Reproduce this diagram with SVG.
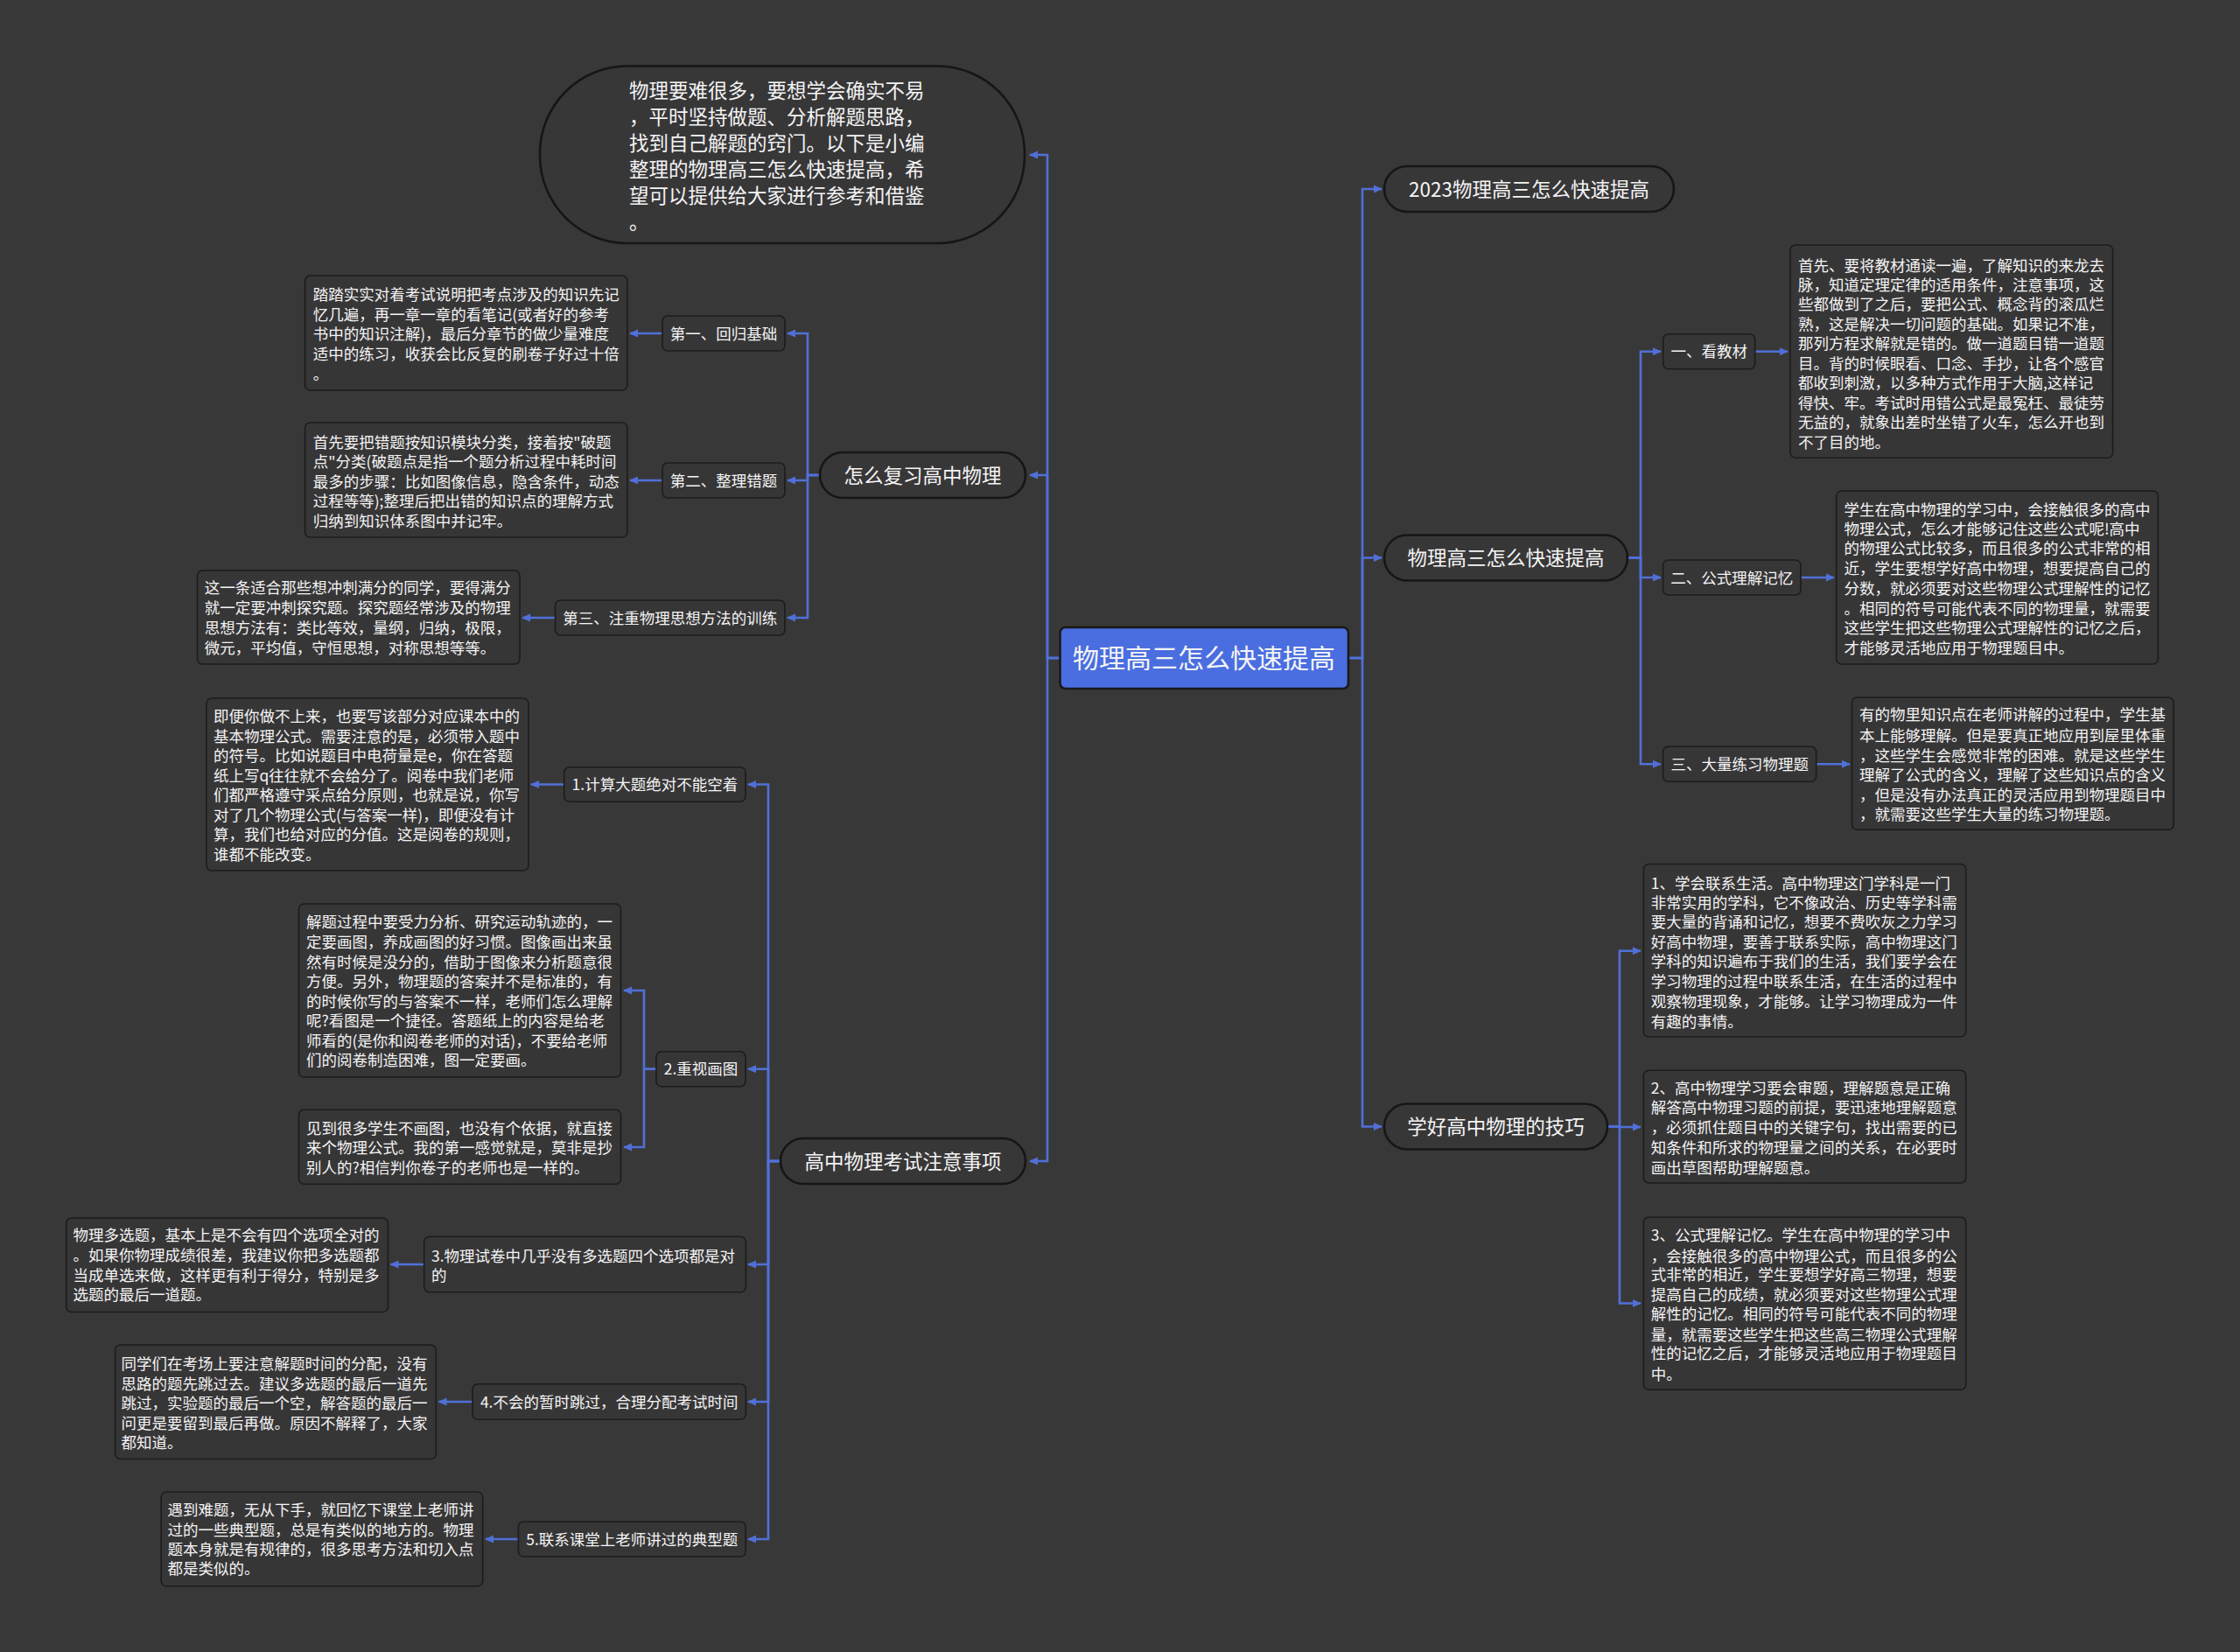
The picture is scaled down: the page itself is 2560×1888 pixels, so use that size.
<svg xmlns="http://www.w3.org/2000/svg" width="2560" height="1888" viewBox="0 0 2560 1888">
<defs>
<marker id="arr" markerUnits="userSpaceOnUse" markerWidth="10" markerHeight="10" refX="9" refY="5" orient="auto">
<path d="M0,0.5 L10,5 L0,9.5 z" fill="#5070d8"/>
</marker>
<style>
.bg{fill:#393839}
.c{fill:none;stroke:#5070d8;stroke-width:2.6;marker-end:url(#arr)}
.pill{fill:#383738;stroke:#161616;stroke-width:2.6}
.box{fill:#373637;stroke:#1c1c1c;stroke-width:1.6}
.t{font-family:"Noto Sans CJK SC","Microsoft YaHei",sans-serif;fill:#f4f4f4}
.s{font-size:17.5px}
.m{font-size:22.5px}
.mid{text-anchor:middle}
</style>
</defs>
<rect class="bg" x="0" y="0" width="2560" height="1888"/>

<g id="connectors">
<path class="c" d="M1211,752 H1197 V177 H1177"/>
<path class="c" d="M1211,752 H1197 V543 H1177"/>
<path class="c" d="M1211,752 H1197 V1327 H1177"/>
<path class="c" d="M1541,752 H1557 V216 H1579"/>
<path class="c" d="M1541,752 H1557 V637.5 H1579"/>
<path class="c" d="M1541,752 H1557 V1287.5 H1579"/>
<path class="c" d="M937,543 H923 V381 H900"/>
<path class="c" d="M937,543 H923 V549 H900"/>
<path class="c" d="M937,543 H923 V706 H900"/>
<path class="c" d="M757,381 H720"/>
<path class="c" d="M757,549 H720"/>
<path class="c" d="M634.6,706 H597"/>
<path class="c" d="M892,1327 H878 V896.5 H855"/>
<path class="c" d="M892,1327 H878 V1221.7 H855"/>
<path class="c" d="M892,1327 H878 V1445 H855"/>
<path class="c" d="M892,1327 H878 V1602 H855"/>
<path class="c" d="M892,1327 H878 V1759 H855"/>
<path class="c" d="M644.7,896.5 H607"/>
<path class="c" d="M750,1221.7 H736 V1132 H713"/>
<path class="c" d="M750,1221.7 H736 V1311 H713"/>
<path class="c" d="M484.7,1445 H446.5"/>
<path class="c" d="M540,1602 H501.5"/>
<path class="c" d="M592.4,1759 H555"/>
<path class="c" d="M1860,637.5 H1875 V401.7 H1898"/>
<path class="c" d="M1860,637.5 H1875 V660 H1898"/>
<path class="c" d="M1860,637.5 H1875 V873.3 H1898"/>
<path class="c" d="M2005.7,401.7 H2043"/>
<path class="c" d="M2058,660 H2096"/>
<path class="c" d="M2075.7,873.3 H2114"/>
<path class="c" d="M1837,1287.5 H1851 V1086.7 H1875"/>
<path class="c" d="M1837,1287.5 H1851 V1288 H1875"/>
<path class="c" d="M1837,1287.5 H1851 V1489.5 H1875"/>
</g>

<g id="root">
<rect x="1211.5" y="717" width="329.5" height="70" rx="6" fill="#4a6ee0" stroke="#1a1a1a" stroke-width="2.6"/>
<text class="t mid" x="1376" y="763" style="font-size:30px">物理高三怎么快速提高</text>
</g>

<g id="intro">
<rect class="pill" x="617" y="75.5" width="554" height="202.5" rx="100" ry="100"/>
<text class="t m" x="719">
<tspan x="719" y="111.5">物理要难很多，要想学会确实不易</tspan>
<tspan x="719" y="141.5">，平时坚持做题、分析解题思路，</tspan>
<tspan x="719" y="171.5">找到自己解题的窍门。以下是小编</tspan>
<tspan x="719" y="201.5">整理的物理高三怎么快速提高，希</tspan>
<tspan x="719" y="231.5">望可以提供给大家进行参考和借鉴</tspan>
<tspan x="719" y="261.5">。</tspan>
</text>
</g>

<g id="review">
<rect class="pill" x="937" y="517" width="235" height="52" rx="26"/>
<text class="t m mid" x="1054.5" y="551.5">怎么复习高中物理</text>
</g>

<g id="exam">
<rect class="pill" x="892" y="1301" width="280" height="52" rx="26"/>
<text class="t m mid" x="1032" y="1335.5">高中物理考试注意事项</text>
</g>

<g id="r1">
<rect class="pill" x="1582" y="190" width="331" height="52" rx="26"/>
<text class="t m mid" x="1747.5" y="224.5">2023物理高三怎么快速提高</text>
</g>

<g id="r2">
<rect class="pill" x="1582" y="611.5" width="278" height="52" rx="26"/>
<text class="t m mid" x="1721" y="646">物理高三怎么快速提高</text>
</g>

<g id="r3">
<rect class="pill" x="1582" y="1261.5" width="255" height="52" rx="26"/>
<text class="t m mid" x="1709.5" y="1296">学好高中物理的技巧</text>
</g>

<g id="rv1">
<rect class="box" x="757" y="361" width="140" height="40" rx="6"/>
<text class="t s mid" x="827" y="387.6">第一、回归基础</text>
</g>
<g id="rv1t">
<rect class="box" x="348.5" y="315" width="368.5" height="131" rx="6"/>
<text class="t s">
<tspan x="357.7" y="343.3">踏踏实实对着考试说明把考点涉及的知识先记</tspan>
<tspan x="357.7" y="365.9">忆几遍，再一章一章的看笔记(或者好的参考</tspan>
<tspan x="357.7" y="388.3">书中的知识注解)，最后分章节的做少量难度</tspan>
<tspan x="357.7" y="410.9">适中的练习，收获会比反复的刷卷子好过十倍</tspan>
<tspan x="357.7" y="433.5">。</tspan>
</text>
</g>

<g id="rv2">
<rect class="box" x="757" y="529" width="140" height="40" rx="6"/>
<text class="t s mid" x="827" y="555.6">第二、整理错题</text>
</g>
<g id="rv2t">
<rect class="box" x="348.5" y="483" width="368.5" height="131" rx="6"/>
<text class="t s">
<tspan x="357.7" y="511.6">首先要把错题按知识模块分类，接着按"破题</tspan>
<tspan x="357.7" y="534.3">点"分类(破题点是指一个题分析过程中耗时间</tspan>
<tspan x="357.7" y="556.6">最多的步骤：比如图像信息，隐含条件，动态</tspan>
<tspan x="357.7" y="579.3">过程等等);整理后把出错的知识点的理解方式</tspan>
<tspan x="357.7" y="601.6">归纳到知识体系图中并记牢。</tspan>
</text>
</g>

<g id="rv3">
<rect class="box" x="634.6" y="686" width="262.4" height="40" rx="6"/>
<text class="t s mid" x="765.8" y="712.6">第三、注重物理思想方法的训练</text>
</g>
<g id="rv3t">
<rect class="box" x="225.5" y="652" width="368.5" height="107" rx="6"/>
<text class="t s">
<tspan x="233.8" y="678.3">这一条适合那些想冲刺满分的同学，要得满分</tspan>
<tspan x="233.8" y="701">就一定要冲刺探究题。探究题经常涉及的物理</tspan>
<tspan x="233.8" y="724.3">思想方法有：类比等效，量纲，归纳，极限，</tspan>
<tspan x="233.8" y="746.6">微元，平均值，守恒思想，对称思想等等。</tspan>
</text>
</g>

<g id="ex1">
<rect class="box" x="644.7" y="876.7" width="207.3" height="39.6" rx="6"/>
<text class="t s mid" x="748.4" y="903.1">1.计算大题绝对不能空着</text>
</g>
<g id="ex1t">
<rect class="box" x="236" y="798" width="368" height="197" rx="6"/>
<text class="t s">
<tspan x="243.9" y="824.9">即便你做不上来，也要写该部分对应课本中的</tspan>
<tspan x="243.9" y="847.5">基本物理公式。需要注意的是，必须带入题中</tspan>
<tspan x="243.9" y="869.9">的符号。比如说题目中电荷量是e，你在答题</tspan>
<tspan x="243.9" y="892.5">纸上写q往往就不会给分了。阅卷中我们老师</tspan>
<tspan x="243.9" y="914.9">们都严格遵守采点给分原则，也就是说，你写</tspan>
<tspan x="243.9" y="937.5">对了几个物理公式(与答案一样)，即便没有计</tspan>
<tspan x="243.9" y="959.9">算，我们也给对应的分值。这是阅卷的规则，</tspan>
<tspan x="243.9" y="982.5">谁都不能改变。</tspan>
</text>
</g>

<g id="ex2">
<rect class="box" x="750" y="1201.7" width="102" height="40" rx="6"/>
<text class="t s mid" x="801" y="1228.3">2.重视画图</text>
</g>
<g id="ex2a">
<rect class="box" x="341.5" y="1033" width="368" height="198" rx="6"/>
<text class="t s">
<tspan x="349.9" y="1059.9">解题过程中要受力分析、研究运动轨迹的，一</tspan>
<tspan x="349.9" y="1082.6">定要画图，养成画图的好习惯。图像画出来虽</tspan>
<tspan x="349.9" y="1105.6">然有时候是没分的，借助于图像来分析题意很</tspan>
<tspan x="349.9" y="1127.6">方便。另外，物理题的答案并不是标准的，有</tspan>
<tspan x="349.9" y="1150.6">的时候你写的与答案不一样，老师们怎么理解</tspan>
<tspan x="349.9" y="1173.3">呢?看图是一个捷径。答题纸上的内容是给老</tspan>
<tspan x="349.9" y="1195.9">师看的(是你和阅卷老师的对话)，不要给老师</tspan>
<tspan x="349.9" y="1218.3">们的阅卷制造困难，图一定要画。</tspan>
</text>
</g>
<g id="ex2b">
<rect class="box" x="341.5" y="1268.3" width="368" height="85" rx="6"/>
<text class="t s">
<tspan x="349.9" y="1295.9">见到很多学生不画图，也没有个依据，就直接</tspan>
<tspan x="349.9" y="1318.3">来个物理公式。我的第一感觉就是，莫非是抄</tspan>
<tspan x="349.9" y="1340.6">别人的?相信判你卷子的老师也是一样的。</tspan>
</text>
</g>

<g id="ex3">
<rect class="box" x="484.7" y="1413.3" width="367.7" height="63.4" rx="6"/>
<text class="t s">
<tspan x="493" y="1441.6">3.物理试卷中几乎没有多选题四个选项都是对</tspan>
<tspan x="493" y="1463.9">的</tspan>
</text>
</g>
<g id="ex3t">
<rect class="box" x="75.7" y="1392" width="367.7" height="107.5" rx="6"/>
<text class="t s">
<tspan x="83.5" y="1418.3">物理多选题，基本上是不会有四个选项全对的</tspan>
<tspan x="83.5" y="1440.9">。如果你物理成绩很差，我建议你把多选题都</tspan>
<tspan x="83.5" y="1463.9">当成单选来做，这样更有利于得分，特别是多</tspan>
<tspan x="83.5" y="1485.9">选题的最后一道题。</tspan>
</text>
</g>

<g id="ex4">
<rect class="box" x="540" y="1581.7" width="312.4" height="40.6" rx="6"/>
<text class="t s mid" x="696.2" y="1608.6">4.不会的暂时跳过，合理分配考试时间</text>
</g>
<g id="ex4t">
<rect class="box" x="131.7" y="1537" width="366.6" height="130.5" rx="6"/>
<text class="t s">
<tspan x="138.5" y="1564.9">同学们在考场上要注意解题时间的分配，没有</tspan>
<tspan x="138.5" y="1587.6">思路的题先跳过去。建议多选题的最后一道先</tspan>
<tspan x="138.5" y="1609.9">跳过，实验题的最后一个空，解答题的最后一</tspan>
<tspan x="138.5" y="1632.6">问更是要留到最后再做。原因不解释了，大家</tspan>
<tspan x="138.5" y="1654.9">都知道。</tspan>
</text>
</g>

<g id="ex5">
<rect class="box" x="592.4" y="1739" width="259.8" height="40" rx="6"/>
<text class="t s mid" x="722.3" y="1765.6">5.联系课堂上老师讲过的典型题</text>
</g>
<g id="ex5t">
<rect class="box" x="184.2" y="1705" width="367.5" height="107.7" rx="6"/>
<text class="t s">
<tspan x="191.5" y="1731.6">遇到难题，无从下手，就回忆下课堂上老师讲</tspan>
<tspan x="191.5" y="1754.9">过的一些典型题，总是有类似的地方的。物理</tspan>
<tspan x="191.5" y="1776.6">题本身就是有规律的，很多思考方法和切入点</tspan>
<tspan x="191.5" y="1799.3">都是类似的。</tspan>
</text>
</g>

<g id="k1">
<rect class="box" x="1900.7" y="381.7" width="105" height="40" rx="6"/>
<text class="t s mid" x="1953.2" y="408.3">一、看教材</text>
</g>
<g id="k1t">
<rect class="box" x="2046" y="280" width="368.6" height="243.3" rx="6"/>
<text class="t s">
<tspan x="2055" y="309.9">首先、要将教材通读一遍，了解知识的来龙去</tspan>
<tspan x="2055" y="332.3">脉，知道定理定律的适用条件，注意事项，这</tspan>
<tspan x="2055" y="354.3">些都做到了之后，要把公式、概念背的滚瓜烂</tspan>
<tspan x="2055" y="376.6">熟，这是解决一切问题的基础。如果记不准，</tspan>
<tspan x="2055" y="399.3">那列方程求解就是错的。做一道题目错一道题</tspan>
<tspan x="2055" y="421.6">目。背的时候眼看、口念、手抄，让各个感官</tspan>
<tspan x="2055" y="444.3">都收到刺激，以多种方式作用于大脑,这样记</tspan>
<tspan x="2055" y="466.6">得快、牢。考试时用错公式是最冤枉、最徒劳</tspan>
<tspan x="2055" y="488.9">无益的，就象出差时坐错了火车，怎么开也到</tspan>
<tspan x="2055" y="511.6">不了目的地。</tspan>
</text>
</g>

<g id="k2">
<rect class="box" x="1900.6" y="640" width="157.4" height="40" rx="6"/>
<text class="t s mid" x="1979.3" y="666.6">二、公式理解记忆</text>
</g>
<g id="k2t">
<rect class="box" x="2098.7" y="561" width="367.7" height="198" rx="6"/>
<text class="t s">
<tspan x="2107.4" y="588.9">学生在高中物理的学习中，会接触很多的高中</tspan>
<tspan x="2107.4" y="610.9">物理公式，怎么才能够记住这些公式呢!高中</tspan>
<tspan x="2107.4" y="633.3">的物理公式比较多，而且很多的公式非常的相</tspan>
<tspan x="2107.4" y="655.9">近，学生要想学好高中物理，想要提高自己的</tspan>
<tspan x="2107.4" y="679.3">分数，就必须要对这些物理公式理解性的记忆</tspan>
<tspan x="2107.4" y="701.6">。相同的符号可能代表不同的物理量，就需要</tspan>
<tspan x="2107.4" y="724.3">这些学生把这些物理公式理解性的记忆之后，</tspan>
<tspan x="2107.4" y="746.6">才能够灵活地应用于物理题目中。</tspan>
</text>
</g>

<g id="k3">
<rect class="box" x="1900.6" y="853.3" width="175.1" height="40" rx="6"/>
<text class="t s mid" x="1988.2" y="879.9">三、大量练习物理题</text>
</g>
<g id="k3t">
<rect class="box" x="2116.5" y="797" width="367.7" height="151.3" rx="6"/>
<text class="t s">
<tspan x="2125" y="823.3">有的物里知识点在老师讲解的过程中，学生基</tspan>
<tspan x="2125" y="846.6">本上能够理解。但是要真正地应用到屋里体重</tspan>
<tspan x="2125" y="869.9">，这些学生会感觉非常的困难。就是这些学生</tspan>
<tspan x="2125" y="892.3">理解了公式的含义，理解了这些知识点的含义</tspan>
<tspan x="2125" y="914.9">，但是没有办法真正的灵活应用到物理题目中</tspan>
<tspan x="2125" y="937.3">，就需要这些学生大量的练习物理题。</tspan>
</text>
</g>

<g id="s1">
<rect class="box" x="1878.3" y="987.5" width="368.4" height="197.5" rx="6"/>
<text class="t s">
<tspan x="1886.7" y="1015.9">1、学会联系生活。高中物理这门学科是一门</tspan>
<tspan x="1886.7" y="1038.3">非常实用的学科，它不像政治、历史等学科需</tspan>
<tspan x="1886.7" y="1059.9">要大量的背诵和记忆，想要不费吹灰之力学习</tspan>
<tspan x="1886.7" y="1083.3">好高中物理，要善于联系实际，高中物理这门</tspan>
<tspan x="1886.7" y="1104.9">学科的知识遍布于我们的生活，我们要学会在</tspan>
<tspan x="1886.7" y="1128.3">学习物理的过程中联系生活，在生活的过程中</tspan>
<tspan x="1886.7" y="1150.6">观察物理现象，才能够。让学习物理成为一件</tspan>
<tspan x="1886.7" y="1174.3">有趣的事情。</tspan>
</text>
</g>

<g id="s2">
<rect class="box" x="1878.3" y="1223.3" width="368.4" height="128.7" rx="6"/>
<text class="t s">
<tspan x="1886.7" y="1249.9">2、高中物理学习要会审题，理解题意是正确</tspan>
<tspan x="1886.7" y="1271.6">解答高中物理习题的前提，要迅速地理解题意</tspan>
<tspan x="1886.7" y="1294.9">，必须抓住题目中的关键字句，找出需要的已</tspan>
<tspan x="1886.7" y="1318.3">知条件和所求的物理量之间的关系，在必要时</tspan>
<tspan x="1886.7" y="1340.6">画出草图帮助理解题意。</tspan>
</text>
</g>

<g id="s3">
<rect class="box" x="1878.3" y="1391" width="368.4" height="197.3" rx="6"/>
<text class="t s">
<tspan x="1886.7" y="1418.3">3、公式理解记忆。学生在高中物理的学习中</tspan>
<tspan x="1886.7" y="1441.6">，会接触很多的高中物理公式，而且很多的公</tspan>
<tspan x="1886.7" y="1463.3">式非常的相近，学生要想学好高三物理，想要</tspan>
<tspan x="1886.7" y="1485.9">提高自己的成绩，就必须要对这些物理公式理</tspan>
<tspan x="1886.7" y="1508.3">解性的记忆。相同的符号可能代表不同的物理</tspan>
<tspan x="1886.7" y="1531.6">量，就需要这些学生把这些高三物理公式理解</tspan>
<tspan x="1886.7" y="1553.3">性的记忆之后，才能够灵活地应用于物理题目</tspan>
<tspan x="1886.7" y="1576.6">中。</tspan>
</text>
</g>
</svg>
